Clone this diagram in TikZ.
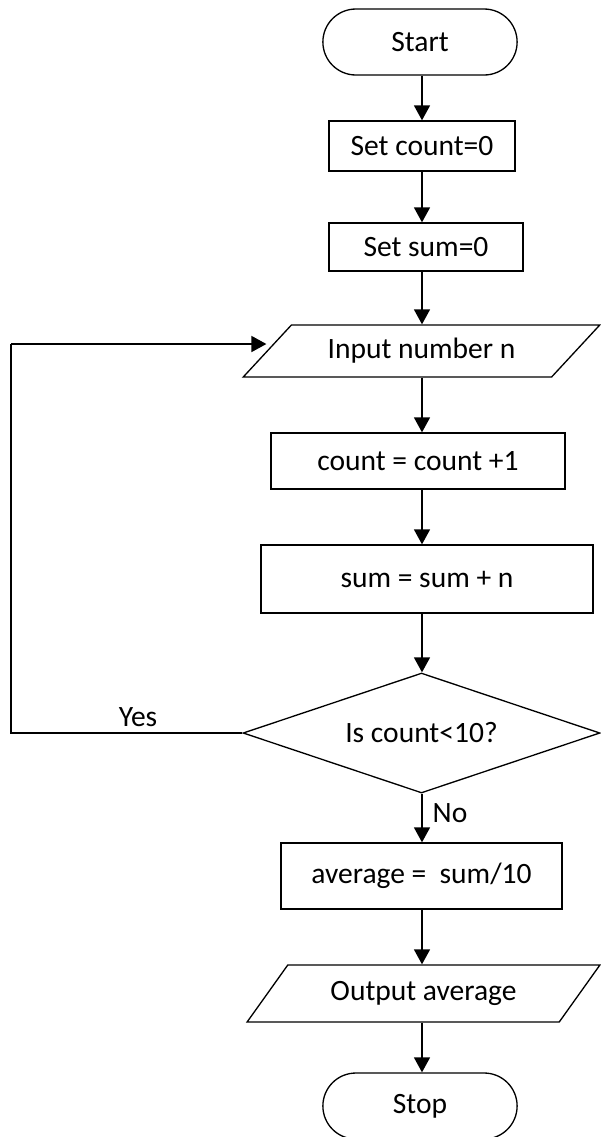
\documentclass[tikz,border=0pt]{standalone}
\usepackage{fontspec}
\setmainfont{Carlito}
\usetikzlibrary{shapes.geometric,shapes.misc,arrows.meta}

\begin{document}
\begin{tikzpicture}[
  x=0.02cm, y=-0.02cm,
  font=\fontsize{16.8pt}{20pt}\selectfont,
  term/.style={
    rounded rectangle,
    draw,
    line width=0.75pt,
    minimum width=4.12cm,
    minimum height=1.32cm
  },
  proc/.style={
    rectangle,
    draw,
    line width=0.75pt,
    inner sep=0pt
  },
  io/.style={
    trapezium,
    trapezium stretches,
    trapezium left angle=#1,
    trapezium right angle=180-#1,
    draw,
    line width=0.75pt,
    inner sep=0pt
  },
  decision/.style={
    diamond,
    aspect=2.975,
    draw,
    line width=0.75pt,
    inner sep=0pt
  },
  arr/.style={
    line width=1.1pt,
    -{Triangle[length=8.5pt,width=9pt]}
  }
]
  \useasboundingbox (0,0) rectangle (600,1137);

  \node[term] (start) at (420,42) {Start};
  \node[proc,minimum width=3.72cm,minimum height=1.0cm] (setcount) at (422,146) {Set count=0};
  \node[proc,minimum width=3.88cm,minimum height=0.96cm] (setsum) at (426,247) {Set sum=0};
  \node[io=36,minimum width=7.14cm,minimum height=1.04cm] (input) at (421.5,351) {Input number n};
  \node[proc,minimum width=5.88cm,minimum height=1.12cm] (inccount) at (418,461) {count = count +1};
  \node[proc,minimum width=6.64cm,minimum height=1.36cm] (addsum) at (427,579) {sum = sum + n};
  \node[decision,minimum width=7.14cm,minimum height=2.4cm] (check) at (421.5,733) {Is count<10?};
  \node[proc,minimum width=5.62cm,minimum height=1.32cm] (avg) at (421.5,876) {average = \ sum/10};
  \node[io=41,minimum width=7.06cm,minimum height=1.14cm] (output) at (423.5,993.5) {Output average};
  \node[term] (stop) at (420,1106) {Stop};

  \node (yes) at (138,717) {Yes};
  \node (no) at (450,813) {No};

  \coordinate (spine) at (422,0);
  \coordinate (back) at (11,344);

  \draw[arr] (start.south -| spine) -- (setcount.north -| spine);
  \draw[arr] (setcount.south -| spine) -- (setsum.north -| spine);
  \draw[arr] (setsum.south -| spine) -- (input.north -| spine);
  \draw[arr] (input.south -| spine) -- (inccount.north -| spine);
  \draw[arr] (inccount.south -| spine) -- (addsum.north -| spine);
  \draw[arr] (addsum.south -| spine) -- (check.north -| spine);
  \draw[arr] (check.south -| spine) -- (avg.north -| spine);
  \draw[arr] (avg.south -| spine) -- (output.north -| spine);
  \draw[arr] (output.south -| spine) -- (stop.north -| spine);

  % loop back when count is still below 10
  \draw[line width=1.1pt] (check.west) -- (check.west -| back) -- (back);
  \draw[arr] (back) -- (back -| input.west);
\end{tikzpicture}
\end{document}
